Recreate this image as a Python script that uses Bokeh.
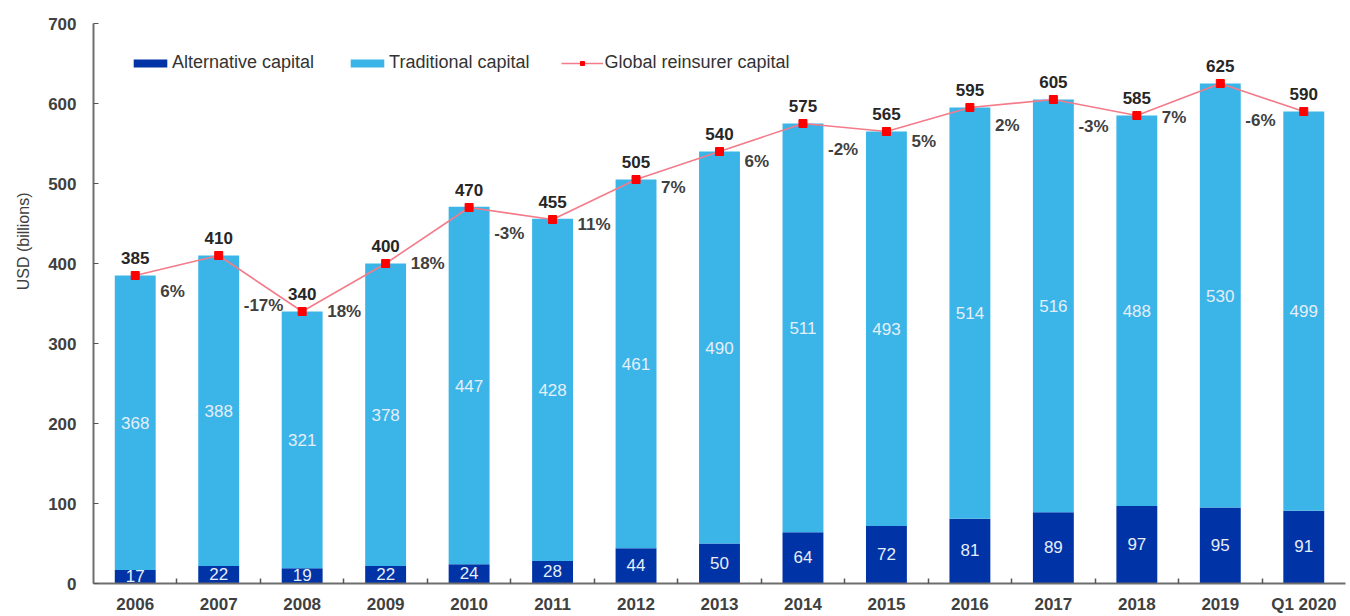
from bokeh.plotting import figure
from bokeh.models import (ColumnDataSource, Range1d, FixedTicker, Legend, LegendItem, Title)
from bokeh.core.properties import value
from bokeh.embed import file_html
from bokeh.resources import INLINE

# ---- data ----
categories = ["2006", "2007", "2008", "2009", "2010", "2011", "2012", "2013",
              "2014", "2015", "2016", "2017", "2018", "2019", "Q1 2020"]
alternative = [17, 22, 19, 22, 24, 28, 44, 50, 64, 72, 81, 89, 97, 95, 91]
traditional = [368, 388, 321, 378, 447, 428, 461, 490, 511, 493, 514, 516, 488, 530, 499]
total = [385, 410, 340, 400, 470, 455, 505, 540, 575, 565, 595, 605, 585, 625, 590]
pct_labels = ["6%", "-17%", "18%", "18%", "-3%", "11%", "7%", "6%", "-2%", "5%",
              "2%", "-3%", "7%", "-6%"]
# vertical anchor of each percentage label (as placed in the original)
pct_label_y = [365, 347, 340, 400, 437, 449, 495, 528, 542, 552, 573, 571, 582, 579]
y_ticks = [0, 100, 200, 300, 400, 500, 600, 700]

FONT = "Liberation Sans"
DARK = "#0033a6"
LIGHT = "#3bb5e8"
LINE = "#f47c8a"
MARK = "#ff0000"
TXT = "#404040"

idx = list(range(len(categories)))
src = ColumnDataSource(dict(
    x=idx,
    alt=alternative,
    trad=traditional,
    trad_top=[a + t for a, t in zip(alternative, traditional)],
    alt_mid=[a / 2 for a in alternative],
    trad_mid=[a + t / 2 for a, t in zip(alternative, traditional)],
    alt_txt=[str(v) for v in alternative],
    trad_txt=[str(v) for v in traditional],
    total=total,
    total_txt=[str(v) for v in total],
))
pct_src = ColumnDataSource(dict(
    x=[i + 0.3 for i in idx[:-1]],
    y=pct_label_y,
    t=pct_labels,
))

p = figure(width=1350, height=616, output_backend="svg", toolbar_location=None,
           x_range=Range1d(-0.5, 14.5), y_range=Range1d(0, 700),
           min_border_left=93, min_border_right=5, min_border_top=23, min_border_bottom=29)
p.outline_line_color = None
p.xgrid.grid_line_color = None
p.ygrid.grid_line_color = None
p.background_fill_color = "white"
p.border_fill_color = "white"

alt_r = p.vbar(x="x", top="alt", bottom=0, width=0.49, source=src,
               fill_color=DARK, line_color=None)
trad_r = p.vbar(x="x", top="trad_top", bottom="alt", width=0.49, source=src,
                fill_color=LIGHT, line_color=None)
line_r = p.line(x="x", y="total", source=src, line_color=LINE, line_width=1.6)
mark_r = p.scatter(x="x", y="total", source=src, marker="square", size=8,
                   fill_color=MARK, line_color=MARK)

# labels inside bars
p.text(x="x", y="trad_mid", text="trad_txt", source=src, text_align="center",
       text_baseline="middle", text_font=value(FONT), text_font_size="17px",
       text_color="#e6eef8")
p.text(x="x", y="alt_mid", text="alt_txt", source=src, text_align="center",
       text_baseline="middle", text_font=value(FONT), text_font_size="17px",
       text_color="#e6eef8", y_offset=-1)
# totals
p.text(x="x", y="total", text="total_txt", source=src, text_align="center",
       text_baseline="bottom", y_offset=-12, text_font=value(FONT),
       text_font_size="17px", text_font_style="bold", text_color="#262626")
# percentages
p.text(x="x", y="y", text="t", source=pct_src, text_align="left",
       text_baseline="middle", text_font=value(FONT), text_font_size="17px",
       text_font_style="bold", text_color=TXT)

# axes
xa = p.xaxis[0]
xa.ticker = FixedTicker(ticks=idx, minor_ticks=[i + 0.5 for i in idx[:-1]])
xa.major_label_overrides = {i: c for i, c in zip(idx, categories)}
xa.major_tick_line_color = None
xa.minor_tick_in = 5
xa.minor_tick_out = 0
xa.minor_tick_line_color = "#555555"
xa.minor_tick_line_width = 1.5
xa.axis_line_color = "#6e6e6e"
xa.axis_line_width = 2
xa.major_label_standoff = 5
xa.major_label_text_line_height = 1.0
xa.major_label_text_font = FONT
xa.major_label_text_font_size = "17px"
xa.major_label_text_font_style = "bold"
xa.major_label_text_color = TXT

ya = p.yaxis[0]
ya.ticker = FixedTicker(ticks=y_ticks)
ya.major_tick_in = 5
ya.major_tick_out = 0
ya.major_tick_line_color = "#555555"
ya.minor_tick_line_color = None
ya.axis_line_color = "#6e6e6e"
ya.axis_line_width = 2
ya.major_label_standoff = 17
ya.major_label_text_font = FONT
ya.major_label_text_font_size = "17px"
ya.major_label_text_font_style = "bold"
ya.major_label_text_color = TXT

ytitle = Title(text="USD (billions)", align="right", offset=169,
               vertical_align="top", standoff=24,
               text_font=FONT, text_font_size="16px", text_font_style="normal",
               text_color=TXT)
p.add_layout(ytitle, "left")

legend = Legend(items=[
    LegendItem(label="Alternative capital", renderers=[alt_r]),
    LegendItem(label="Traditional capital", renderers=[trad_r]),
    LegendItem(label="Global reinsurer capital", renderers=[line_r, mark_r]),
], location=(36, 510), orientation="horizontal")
legend.padding = 0
legend.margin = 0
legend.spacing = 32
legend.label_standoff = 1
legend.glyph_width = 42
legend.glyph_height = 10
legend.label_height = 18
legend.label_text_font = FONT
legend.label_text_font_size = "18px"
legend.label_text_color = "#333333"
legend.background_fill_alpha = 0
legend.border_line_color = None
p.add_layout(legend)

open("out.html", "w").write(file_html(p, INLINE))
